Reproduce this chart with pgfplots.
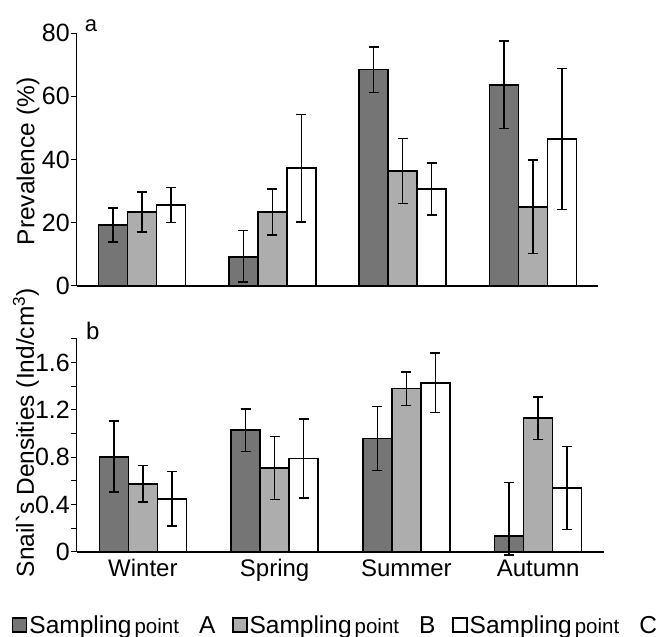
\documentclass[border=0pt]{standalone}
\usepackage{fontspec}
\setmainfont{Liberation Sans}
\usepackage{pgfplots}
\usepackage{pgfplotstable}
\pgfplotsset{compat=1.18}

\pgfplotstableread{
x A Ap Am B Bp Bm C Cp Cm
0 19.3 5.4 5.4 23.4 6.3 6.3 25.6 5.5 5.5
1 9.2 8.3 8.0 23.4 7.3 7.3 37.3 17.0 17.0
2 68.4 7.2 7.2 36.4 10.3 10.3 30.7 8.2 8.2
3 63.6 13.8 13.8 25.0 14.8 14.8 46.5 22.3 22.3
}\toptab

\pgfplotstableread{
x A Ap Am B Bp Bm C Cp Cm
0 0.805 0.30 0.30 0.576 0.155 0.155 0.45 0.23 0.23
1 1.03 0.18 0.18 0.71 0.265 0.265 0.79 0.335 0.335
2 0.96 0.27 0.27 1.38 0.14 0.14 1.43 0.25 0.25
3 0.136 0.45 0.16 1.13 0.18 0.18 0.54 0.35 0.35
}\bottab

\definecolor{colA}{gray}{0.46}
\definecolor{colB}{gray}{0.68}

\pgfplotsset{
  panel/.style={
    scale only axis,
    xmin=-0.5, xmax=3.5,
    ybar=0pt, bar width=29pt,
    axis x line*=bottom, axis y line*=left,
    x axis line style={-, line width=1.5pt},
    y axis line style={-, line width=1pt},
    tick align=outside,
    major tick length=6pt, minor tick length=6pt,
    xtick style={draw=none},
    ytick style={black, line width=1pt},
    minor y tick style={black, line width=1pt},
    xtick=data,
    /pgf/number format/assume math mode=true,
    clip=false,
    legend image code/.code={\draw[#1, line width=1.2pt] (0pt,-7pt) rectangle (14pt,7pt);},
  },
  errs/.style={
    error bars/.cd, y dir=both, y explicit,
    error bar style={line width=1.5pt, black},
    error mark options={rotate=90, mark size=5pt, line width=1.5pt, black}},
  barA/.style={fill=colA, draw=black, line width=1.6pt, errs},
  barB/.style={fill=colB, draw=black, line width=1.6pt, errs},
  barC/.style={fill=white, draw=black, line width=1.6pt, errs},
}

\newcommand{\entry}[1]{{\fontsize{24.5}{26}\selectfont Sampling\hspace{3pt}{\fontsize{20.5}{22}\selectfont point}\hspace{20pt}#1}}

\begin{document}
\begin{tikzpicture}
\path (0,0) rectangle (664pt,637pt);

\begin{axis}[panel,
  at={(77pt,351pt)}, anchor=south west,
  width=521pt, height=253pt,
  ymin=0, ymax=80,
  ytick={0,20,40,60,80},
  xticklabels={},
  yticklabel style={font=\fontsize{25}{28}\selectfont, inner xsep=1pt},
  ylabel={Prevalence (\%)},
  ylabel style={font=\fontsize{24.5}{26}\selectfont, at={(axis description cs:-0.094,0.492)}, anchor=center},
]
\addplot[barA] table[x=x, y=A, y error plus=Ap, y error minus=Am] {\toptab};
\addplot[barB] table[x=x, y=B, y error plus=Bp, y error minus=Bm] {\toptab};
\addplot[barC] table[x=x, y=C, y error plus=Cp, y error minus=Cm] {\toptab};
\node[font=\fontsize{22}{24}\selectfont, anchor=center] at (axis description cs:0.027,1.03) {a};
\end{axis}

\begin{axis}[panel,
  at={(77pt,85pt)}, anchor=south west,
  width=527pt, height=213pt,
  ymin=0, ymax=1.8,
  ytick={0,0.4,0.8,1.2,1.6},
  yticklabels={0,0.4,0.8,1.2,1.6},
  minor ytick={0.2,0.6,1.0,1.4,1.8},
  xticklabels={Winter,Spring,Summer,Autumn},
  xticklabel style={font=\fontsize{24}{26}\selectfont, yshift=2pt},
  yticklabel style={font=\fontsize{25}{28}\selectfont, inner xsep=1pt},
  ylabel={Snail\textasciigrave s Densities (Ind/cm\textsuperscript{3})},
  ylabel style={font=\fontsize{24.5}{26}\selectfont, at={(axis description cs:-0.097,0.56)}, anchor=center},
  legend columns=3,
  legend style={at={(axis description cs:-0.1233,-0.343)}, anchor=west, draw=none, fill=none, inner sep=0pt,
    nodes={inner xsep=2pt, inner ysep=0pt},
    /tikz/every even column/.append style={column sep=15pt}},
  legend cell align=left,
]
\addplot[barA] table[x=x, y=A, y error plus=Ap, y error minus=Am] {\bottab};
\addplot[barB] table[x=x, y=B, y error plus=Bp, y error minus=Bm] {\bottab};
\addplot[barC] table[x=x, y=C, y error plus=Cp, y error minus=Cm] {\bottab};
\legend{\entry{A},\entry{B},\entry{C}}
\node[font=\fontsize{24}{26}\selectfont, anchor=center] at (axis description cs:0.03,1.04) {b};
\end{axis}
\end{tikzpicture}
\end{document}
